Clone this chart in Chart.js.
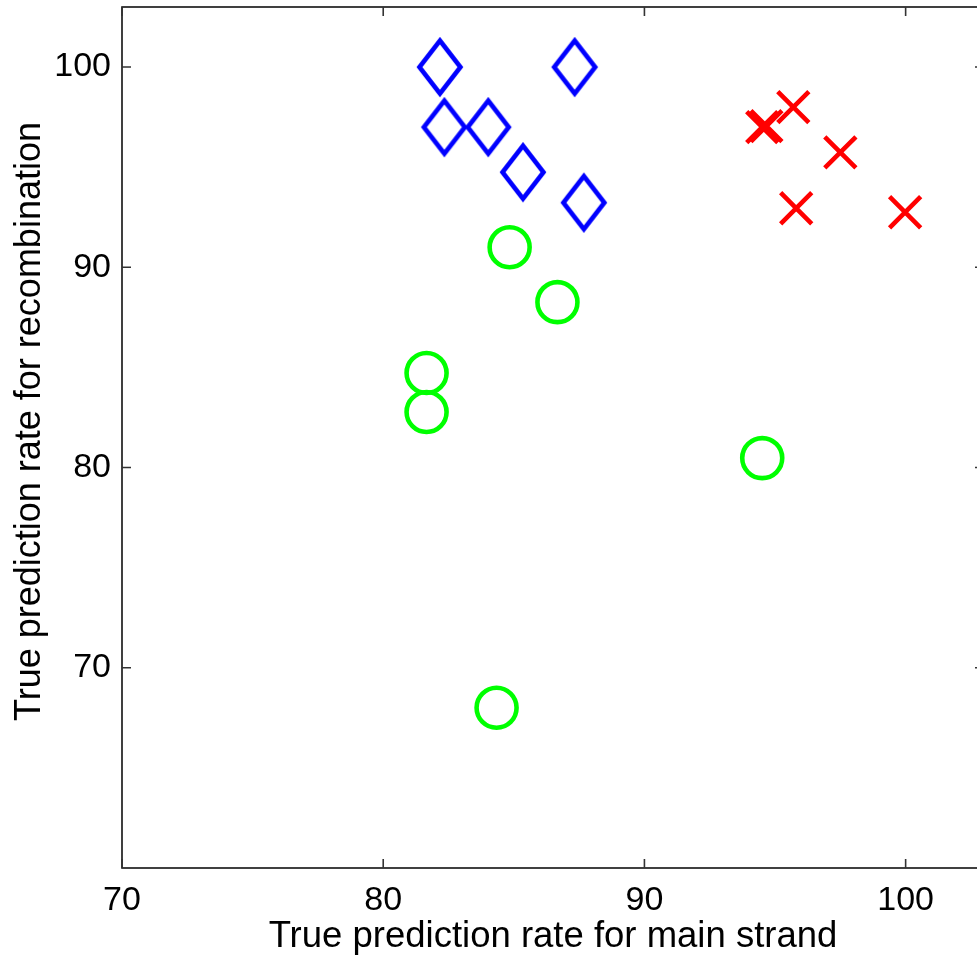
<!DOCTYPE html>
<html>
<head>
<meta charset="utf-8">
<script src="https://cdn.jsdelivr.net/npm/chart.js@4.4.1/dist/chart.umd.min.js"></script>
<style>
  html, body { margin: 0; padding: 0; background: #fff; overflow: hidden; }
  /* the original figure is cropped just inside its right frame line */
  #wrap { width: 977px; height: 959px; overflow: hidden; }
</style>
</head>
<body>
<div id="wrap"><canvas id="chart" width="985" height="959"></canvas></div>
<script>
// data
const diamondX = [82.17, 87.33, 82.34, 84.02, 85.35, 87.68];
const diamondY = [100, 100, 97.0, 97.0, 94.75, 93.23];

const circleX = [84.84, 86.67, 81.66, 81.66, 94.51, 84.34];
const circleY = [91.0, 88.26, 84.72, 82.77, 80.47, 68.0];

const crossX = [94.51, 94.67, 95.7, 97.5, 95.81, 99.98];
const crossY = [97.0, 97.05, 98.0, 95.74, 92.95, 92.75];

const xTicks = [70, 80, 90, 100];
const yTicks = [70, 80, 90, 100];

const xTitle = 'True prediction rate for main strand';
const yTitle = 'True prediction rate for recombination';

const FONT = "'Liberation Sans', Arial, Helvetica, sans-serif";

function toPoints(xs, ys) {
  return xs.map((x, i) => ({ x: x, y: ys[i] }));
}

// tall blue diamond marker (chart.js rectRot is square)
function makeDiamond() {
  const c = document.createElement('canvas');
  c.width = 50;
  c.height = 62;
  const g = c.getContext('2d');
  g.strokeStyle = '#0000ff';
  g.lineWidth = 4.6;
  g.beginPath();
  g.moveTo(25, 4.5);
  g.lineTo(45.5, 31);
  g.lineTo(25, 57.5);
  g.lineTo(4.5, 31);
  g.closePath();
  g.stroke();
  return c;
}

// box frame with inward ticks, like the matlab axes
const framePlugin = {
  id: 'framePlugin',
  beforeDatasetsDraw(chart) {
    const { ctx, chartArea: a, scales } = chart;
    ctx.save();
    ctx.strokeStyle = '#111';
    ctx.lineWidth = 1.6;
    ctx.strokeRect(a.left, a.top, a.right - a.left, a.bottom - a.top);

    const len = 9;
    ctx.strokeStyle = '#333';
    ctx.beginPath();
    xTicks.forEach(v => {
      const px = scales.x.getPixelForValue(v);
      ctx.moveTo(px, a.bottom);
      ctx.lineTo(px, a.bottom - len);
      ctx.moveTo(px, a.top);
      ctx.lineTo(px, a.top + len);
    });
    yTicks.forEach(v => {
      const py = scales.y.getPixelForValue(v);
      ctx.moveTo(a.left, py);
      ctx.lineTo(a.left + len, py);
      ctx.moveTo(a.right, py);
      ctx.lineTo(a.right - len, py);
    });
    ctx.stroke();
    ctx.restore();
  },
  afterDraw(chart) {
    // y label sits a bit above the axis centre in the original
    const { ctx, chartArea: a } = chart;
    ctx.save();
    ctx.translate(30, (a.top + a.bottom) / 2 - 16);
    ctx.rotate(-Math.PI / 2);
    ctx.fillStyle = '#000';
    ctx.font = '36px ' + FONT;
    ctx.textAlign = 'center';
    ctx.textBaseline = 'middle';
    ctx.fillText(yTitle, 0, 0);
    ctx.restore();
  }
};

const ctx = document.getElementById('chart').getContext('2d');
new Chart(ctx, {
  type: 'scatter',
  data: {
    datasets: [
      {
        label: 'diamonds',
        data: toPoints(diamondX, diamondY),
        pointStyle: makeDiamond(),
        pointRadius: 25
      },
      {
        label: 'circles',
        data: toPoints(circleX, circleY),
        pointStyle: 'circle',
        pointRadius: 20,
        borderColor: '#00ff00',
        backgroundColor: 'rgba(0,0,0,0)',
        borderWidth: 4.6
      },
      {
        label: 'crosses',
        data: toPoints(crossX, crossY),
        pointStyle: 'crossRot',
        pointRadius: 22,
        borderColor: '#ff0000',
        backgroundColor: '#ff0000',
        borderWidth: 4.6
      }
    ]
  },
  options: {
    responsive: false,
    animation: false,
    events: [],
    layout: { autoPadding: false, padding: { left: 0, top: 7, right: 1, bottom: 0 } },
    plugins: {
      legend: { display: false },
      tooltip: { enabled: false }
    },
    scales: {
      x: {
        type: 'linear',
        min: 70,
        max: 103,
        afterBuildTicks(scale) {
          scale.ticks = xTicks.map(v => ({ value: v }));
        },
        afterFit(scale) {
          scale.height = 91;
          scale.paddingLeft = 0;
          scale.paddingRight = 0;
        },
        grid: { display: false, drawTicks: false },
        border: { display: false },
        ticks: {
          color: '#000',
          padding: 12,
          maxRotation: 0,
          font: { family: FONT, size: 34 }
        },
        title: {
          display: true,
          text: xTitle,
          color: '#000',
          padding: { top: 0, bottom: 0 },
          font: { family: FONT, size: 36.5 }
        }
      },
      y: {
        type: 'linear',
        min: 60,
        max: 103,
        afterBuildTicks(scale) {
          scale.ticks = yTicks.map(v => ({ value: v }));
        },
        afterFit(scale) {
          scale.width = 122;
          scale.paddingTop = 0;
          scale.paddingBottom = 0;
        },
        grid: { display: false, drawTicks: false },
        border: { display: false },
        ticks: {
          color: '#000',
          padding: 11,
          font: { family: FONT, size: 34 }
        }
      }
    }
  },
  plugins: [framePlugin]
});
</script>
</body>
</html>
